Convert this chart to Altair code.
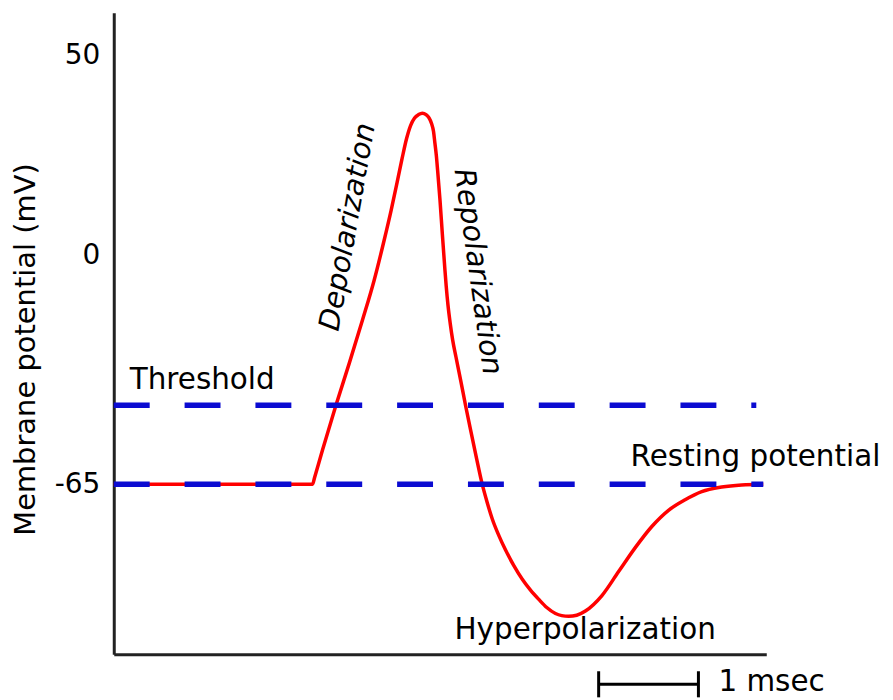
import altair as alt
import pandas as pd

# ---- data ----
curve_ms = [0.00, 1.993, 2.013, 2.093, 2.227, 2.36, 2.493, 2.61, 2.71, 2.78, 2.84, 2.89, 2.935, 2.975, 3.015,
            3.055, 3.093,
            3.13, 3.16, 3.185, 3.205, 3.218, 3.233, 3.246, 3.27, 3.293, 3.317, 3.332, 3.35, 3.372, 3.397, 3.43,
            3.477, 3.527, 3.58, 3.635, 3.693, 3.745, 3.793, 3.86, 3.927, 4.01, 4.093, 4.175, 4.26, 4.34,
            4.427, 4.49, 4.56, 4.64, 4.727, 4.893, 5.06, 5.227, 5.393, 5.56, 5.727, 5.893, 6.093, 6.293, 6.51]
curve_mv = [-65.0, -65.0, -63.1, -55.2, -42.6, -30.7, -18.4, -7.1, 3.75, 11.25, 18.25, 24.25, 29.25, 32.5, 34.4,
            35.25, 35.6,
            35.25, 34.4, 33.0, 31.0, 28.25, 25.0, 21.25, 13.75, 5.4, -3.3, -8.8, -14.2, -19.3, -24.1, -28.9,
            -35.5, -42.8, -50.1, -57.5, -65.0, -70.4, -74.8, -79.6, -83.7, -88.1, -91.9, -95.0, -97.7, -100.0,
            -101.7, -102.3, -102.5, -102.2, -101.0, -96.6, -89.8, -83.0, -77.0, -72.4, -69.4, -67.1, -65.8, -65.2, -65.0]

ref_names = ["Threshold", "Resting potential"]
ref_mv = [-42.6, -65]
ref_start = [0, 0]
ref_end = [6.44, 6.51]

label_text = ["Threshold", "Resting potential", "Hyperpolarization", "1 msec"]
label_ms = [0.16, 5.18, 3.415, 6.06]
label_mv = [-37.95, -59.76, -109.0, -123.76]

rot_text = ["Depolarization", "Repolarization"]
rot_ms = [2.345, 3.65]
rot_mv = [7.1, -4.7]
rot_angle = [280, 82]

bar_start = [4.86]
bar_end = [5.86]
bar_mv = [-121.8]
cap_ms = [4.86, 5.86]
cap_top = [-118.1, -118.1]
cap_bottom = [-125.5, -125.5]

y_ticks = [50, 0, -65]
y_domain = [-113.29, -65, 0, 50, 60.75]

# ---- tables ----
curve_df = pd.DataFrame({"ms": curve_ms, "mv": curve_mv})
ref_df = pd.DataFrame({"name": ref_names, "ms": ref_start, "ms_end": ref_end, "mv": ref_mv})
lab_df = pd.DataFrame({"text": label_text, "ms": label_ms, "mv": label_mv})
rot_df = pd.DataFrame({"text": rot_text, "ms": rot_ms, "mv": rot_mv, "angle": rot_angle})
bar_df = pd.DataFrame({"ms": bar_start, "ms_end": bar_end, "mv": bar_mv})
cap_df = pd.DataFrame({"ms": cap_ms, "mv": cap_top, "mv_end": cap_bottom})

FONT = "DejaVu Sans"
H = 643
W = 654

yscale = alt.Scale(domain=y_domain, range=[H, 472.5, 243, 43, 0], nice=False, zero=False)
xscale = alt.Scale(domain=[0, 6.54], nice=False, zero=False)

yaxis = alt.Axis(values=y_ticks, title="Membrane potential (mV)", ticks=False, tickSize=0, grid=False,
                 domainColor="#222222", domainWidth=3, labelFontSize=28, labelFont=FONT,
                 labelColor="black", labelPadding=14, labelFlush=False, labelOverlap=False,
                 labelExpr="'' + datum.value",
                 titleFontSize=29, titleFont=FONT, titleFontWeight="normal", titleColor="black",
                 titleX=-79, titleY=337, titleBaseline="alphabetic", titleAngle=270, titleAlign="center")
xaxis = alt.Axis(labels=False, ticks=False, tickSize=0, title=None, grid=False,
                 domainColor="#222222", domainWidth=3)


def X(f):
    return alt.X(f, type="quantitative", scale=xscale, axis=xaxis)


def Y(f):
    return alt.Y(f, type="quantitative", scale=yscale, axis=yaxis)


line = alt.Chart(curve_df).mark_line(color="#ff0000", strokeWidth=3.5, interpolate="monotone").encode(
    x=X("ms"), y=Y("mv"))

refs = alt.Chart(ref_df).mark_rule(color="#0b0bd1", strokeWidth=5.5, strokeDash=[36, 35]).encode(
    x=X("ms"), x2="ms_end", y=Y("mv"))

labels = alt.Chart(lab_df).mark_text(align="left", baseline="alphabetic", fontSize=29.5, font=FONT,
                                     color="black").encode(x=X("ms"), y=Y("mv"), text="text")

rot = alt.Chart(rot_df).mark_text(align="center", baseline="middle", fontSize=29, font=FONT,
                                  fontStyle="italic", color="black").encode(
    x=X("ms"), y=Y("mv"), text="text", angle=alt.Angle("angle:Q", scale=None))

bar = alt.Chart(bar_df).mark_rule(color="black", strokeWidth=3).encode(x=X("ms"), x2="ms_end", y=Y("mv"))
caps = alt.Chart(cap_df).mark_rule(color="black", strokeWidth=3).encode(x=X("ms"), y=Y("mv"), y2="mv_end")

chart = alt.layer(line, refs, labels, rot, bar, caps).properties(
    width=W, height=H,
    autosize=alt.AutoSizeParams(type="none"),
    padding={"left": 106, "top": 4, "right": 119, "bottom": 45},
).configure_view(stroke=None)

chart.save("out.html", embed_options={"renderer": "svg", "actions": False})
